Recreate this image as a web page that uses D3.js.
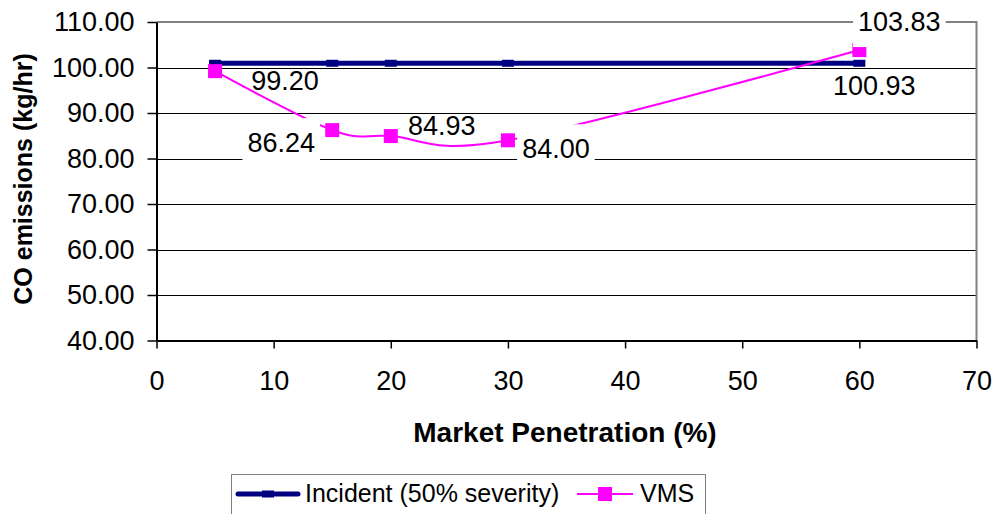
<!DOCTYPE html>
<html>
<head>
<meta charset="utf-8">
<script src="https://cdn.jsdelivr.net/npm/d3@7/dist/d3.min.js"></script>
<style>
  html, body { margin: 0; padding: 0; background: #fff; }
  svg { display: block; font-family: "Liberation Sans", Arial, sans-serif; }
</style>
</head>
<body>
<svg id="chart" width="995" height="514"></svg>
<script>
// ---- data ----
const xValues = [5, 15, 20, 30, 60];
const incidentValues = [100.93, 100.93, 100.93, 100.93, 100.93];
const vmsValues = [99.20, 86.24, 84.93, 84.00, 103.83];
const yTicks = [40, 50, 60, 70, 80, 90, 100, 110];
const xTicks = [0, 10, 20, 30, 40, 50, 60, 70];
const seriesNames = ["Incident (50% severity)", "VMS"];
const xTitle = "Market Penetration (%)";
const yTitle = "CO emissions (kg/hr)";

// ---- label placement (offsets from data point: dx to text centre, dy to baseline, white box) ----
const vmsLabelPlacement = [[70, 19, false], [-51, 22, true], [51, -1, false], [48, 18, true], [40, -19, true]];
const incidentLabelIndex = 4;
const incidentLabelPlacement = [15, 32, false];

const svg = d3.select("#chart");
const x = d3.scaleLinear().domain([0, 70]).range([156.5, 976.5]);
const y = d3.scaleLinear().domain([40, 110]).range([340.5, 22]);

const NAVY = "#000080", PINK = "#FF00FF", FRAME = "#808080";

// gridlines
svg.append("g").selectAll("line")
  .data(yTicks.filter(d => d > 40 && d < 110))
  .join("line")
  .attr("x1", x(0)).attr("x2", x(70))
  .attr("y1", d => Math.round(y(d)) + 0.5).attr("y2", d => Math.round(y(d)) + 0.5)
  .attr("stroke", "#000").attr("stroke-width", 1);

// top & right frame
svg.append("path")
  .attr("d", `M${x(0)},${y(110)}H${x(70)}V${y(40)}`)
  .attr("fill", "none").attr("stroke", FRAME).attr("stroke-width", 2);

// axes
const yAxis = svg.append("g").attr("transform", `translate(${x(0)},0)`)
  .call(d3.axisLeft(y).tickValues(yTicks).tickFormat(d3.format(".2f")).tickSize(9).tickPadding(13).tickSizeOuter(0));
const xAxis = svg.append("g").attr("transform", `translate(0,${y(40)})`)
  .call(d3.axisBottom(x).tickValues(xTicks).tickFormat(d3.format("d")).tickSize(8).tickPadding(22).tickSizeOuter(0));
[yAxis, xAxis].forEach(a => {
  a.select(".domain").attr("stroke", "#000").attr("stroke-width", 2);
  a.selectAll(".tick line").attr("stroke", "#000").attr("stroke-width", 1.5);
  a.selectAll(".tick text").attr("fill", "#000").style("font-size", "27px")
    .style("font-family", '"Liberation Sans", Arial, sans-serif');
});
yAxis.selectAll(".tick text").attr("dy", "0.33em");

// axis titles
svg.append("text")
  .attr("x", 565).attr("y", 442)
  .attr("text-anchor", "middle")
  .style("font-size", "28px").style("font-weight", "bold")
  .text(xTitle);
svg.append("text")
  .attr("transform", `translate(32,179) rotate(-90)`)
  .attr("text-anchor", "middle")
  .style("font-size", "25px").style("font-weight", "bold")
  .text(yTitle);

// incident series
const incData = xValues.map((d, i) => [d, incidentValues[i]]);
svg.append("path")
  .datum(incData)
  .attr("d", d3.line().x(d => x(d[0])).y(d => y(d[1])))
  .attr("fill", "none").attr("stroke", NAVY).attr("stroke-width", 5);
svg.append("g").selectAll("rect")
  .data(incData).join("rect")
  .attr("x", d => x(d[0]) - 6).attr("y", d => y(d[1]) - 3.5)
  .attr("width", 12).attr("height", 7)
  .attr("fill", NAVY);

// VMS series (smoothed)
const vmsData = xValues.map((d, i) => [d, vmsValues[i]]);
svg.append("path")
  .datum(vmsData)
  .attr("d", d3.line().x(d => x(d[0])).y(d => y(d[1])).curve(d3.curveCardinal.tension(0)))
  .attr("fill", "none").attr("stroke", PINK).attr("stroke-width", 2);
svg.append("g").selectAll("rect")
  .data(vmsData).join("rect")
  .attr("x", d => x(d[0]) - 7).attr("y", d => y(d[1]) - 7)
  .attr("width", 14).attr("height", 14)
  .attr("fill", PINK);

// data labels
const labels = vmsData.map((d, i) => ({ d, p: vmsLabelPlacement[i], v: vmsValues[i] }));
labels.push({ d: incData[incidentLabelIndex], p: incidentLabelPlacement, v: incidentValues[incidentLabelIndex] });
const lg = svg.append("g");
labels.forEach(l => {
  const g = lg.append("g");
  const tx = x(l.d[0]) + l.p[0], ty = y(l.d[1]) + l.p[1];
  const rect = g.append("rect").attr("fill", "#fff");
  const t = g.append("text")
    .attr("x", tx).attr("y", ty)
    .attr("text-anchor", "middle")
    .style("font-size", "27px")
    .text(d3.format(".2f")(l.v));
  if (l.p[2]) {
    const bb = t.node().getBBox();
    rect.attr("x", bb.x - 5).attr("width", bb.width + 10)
      .attr("y", ty - 34).attr("height", 50);
  } else {
    rect.remove();
  }
});

// legend
const leg = svg.append("g");
leg.append("rect")
  .attr("x", 231.5).attr("y", 474.5).attr("width", 474).attr("height", 60)
  .attr("fill", "#fff").attr("stroke", FRAME).attr("stroke-width", 1);
const legY = 494;
leg.append("line").attr("x1", 238).attr("x2", 298).attr("y1", legY).attr("y2", legY)
  .attr("stroke", NAVY).attr("stroke-width", 5).attr("stroke-linecap", "round");
leg.append("rect").attr("x", 262).attr("y", legY - 3.5).attr("width", 12).attr("height", 7).attr("fill", NAVY);
leg.append("text").attr("x", 305).attr("y", 502).style("font-size", "25px").text(seriesNames[0]);
leg.append("line").attr("x1", 577).attr("x2", 633).attr("y1", legY).attr("y2", legY)
  .attr("stroke", PINK).attr("stroke-width", 2);
leg.append("rect").attr("x", 598).attr("y", legY - 7).attr("width", 14).attr("height", 14).attr("fill", PINK);
leg.append("text").attr("x", 640).attr("y", 502).style("font-size", "25px").text(seriesNames[1]);
</script>
</body>
</html>
